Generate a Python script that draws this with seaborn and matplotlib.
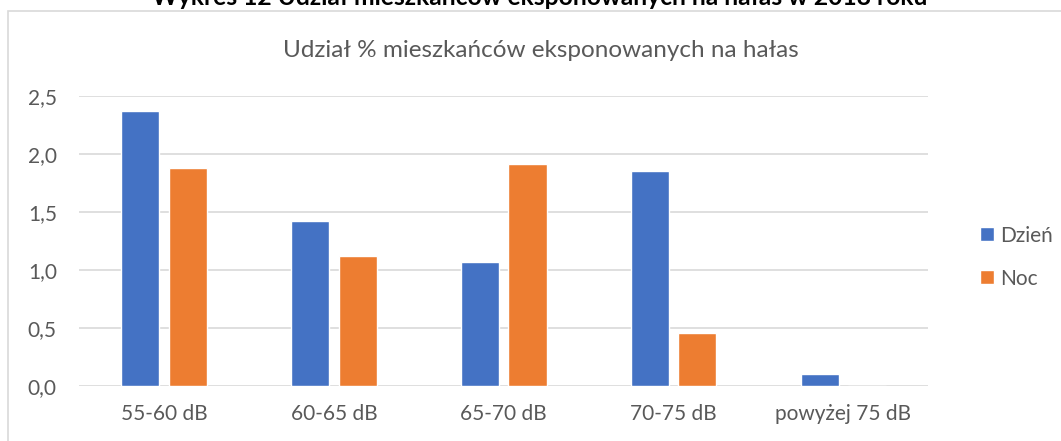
import pandas as pd
import matplotlib.pyplot as plt
import seaborn as sns
from matplotlib.patches import Rectangle

categories = ["55-60 dB", "60-65 dB", "65-70 dB", "70-75 dB", "powyżej 75 dB"]
dzien = [2.37, 1.42, 1.07, 1.85, 0.10]
noc = [1.88, 1.12, 1.91, 0.46, 0.0]
series = ["Dzień", "Noc"]

df = pd.DataFrame({
    "kategoria": categories * 2,
    "seria": [series[0]] * len(categories) + [series[1]] * len(categories),
    "wartosc": dzien + noc,
})

sns.set_style("white")
plt.rcParams["font.family"] = ["Lato", "DejaVu Sans"]

grey = "#595959"
fig = plt.figure(figsize=(10.61, 4.41), dpi=100)
ax = fig.add_axes([0.0745, 0.1247, 0.8005, 0.6575])

sns.barplot(data=df, x="kategoria", y="wartosc", hue="seria",
            palette=["#4472C4", "#ED7D31"], width=0.56, gap=0.2,
            saturation=1, ax=ax)

ax.set_ylim(0, 2.5)
ax.set_yticks([0, 0.5, 1.0, 1.5, 2.0, 2.5])
ax.set_yticklabels([f"{v:.1f}".replace(".", ",") for v in ax.get_yticks()])
ax.yaxis.grid(True, color="#D9D9D9", linewidth=1.2)
ax.set_axisbelow(True)
for s in ax.spines.values():
    s.set_visible(False)
ax.tick_params(axis="both", length=0, labelsize=15, colors=grey)
ax.tick_params(axis="y", pad=16)
ax.tick_params(axis="x", pad=13)
ax.set_xlabel("")
ax.set_ylabel("")

ax.legend(loc="center left", bbox_to_anchor=(0.906, 0.417),
          bbox_transform=fig.transFigure, frameon=False,
          handlelength=0.67, handleheight=0.67, handletextpad=0.3,
          labelspacing=1.1, fontsize=15, labelcolor=grey)

fig.text(0.51, 0.871, "Udział % mieszkańców eksponowanych na hałas",
         ha="center", va="baseline", fontsize=17.5, color=grey)
# tytuł obcięty u góry jak w oryginale
fig.text(0.509, 0.9887, "Wykres 12 Udział mieszkańców eksponowanych na hałas w 2018 roku",
         ha="center", va="baseline", fontsize=17.7, fontweight="bold", color="black")

fig.patches.append(Rectangle((8 / 1061, -0.01), 1.1, 1 - 10.7 / 441 + 0.01,
                             transform=fig.transFigure, fill=False,
                             edgecolor="#D9D9D9", linewidth=1.2))

fig.savefig("out.png", dpi=100)
